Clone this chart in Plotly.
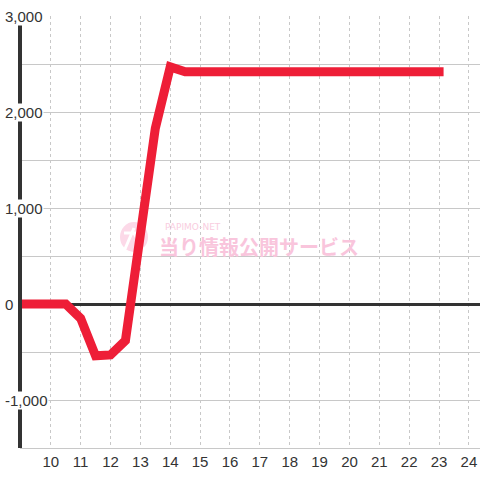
import plotly.graph_objects as go

hours = [9, 10.5, 11, 11.5, 12, 12.5, 13.5, 14, 14.5, 23]
values = [0, 0, -150, -540, -530, -380, 1830, 2470, 2420, 2420]

ytick_vals = [3000, 2000, 1000, 0, -1000]
ytick_text = ["3,000", "2,000", "1,000", "0", "-1,000"]
xtick_vals = list(range(10, 25))

FONT = "Liberation Sans, Arial, sans-serif"

fig = go.Figure()
fig.add_trace(go.Scatter(
    x=hours, y=values, mode="lines",
    line=dict(color="#ee1e37", width=9),
    hoverinfo="skip", showlegend=False,
))

fig.update_layout(
    width=480, height=480,
    margin=dict(l=20, r=0, t=16, b=32, autoexpand=False),
    paper_bgcolor="white", plot_bgcolor="white",
    font=dict(family=FONT, size=15, color="#333"),
    xaxis=dict(
        range=[8.97, 24.37], tickvals=xtick_vals, automargin=False,
        showgrid=True, gridcolor="#c8c8c8", griddash="3px,3px", gridwidth=1,
        zeroline=False, showline=True, linecolor="#c8c8c8", linewidth=1,
        ticks="", tickfont=dict(family=FONT, size=15, color="#333"),
    ),
    yaxis=dict(
        range=[-1500, 3000], dtick=500, tick0=0, automargin=False,
        showgrid=True, gridcolor="#c8c8c8", gridwidth=1,
        zeroline=True, zerolinecolor="#333", zerolinewidth=3,
        showticklabels=False, ticks="", showline=False,
    ),
)

# left axis line (dark)
fig.add_shape(type="line", xref="paper", yref="paper", x0=0.0, x1=0.0, y0=0, y1=1,
              line=dict(color="#333", width=4), layer="above")

# y tick labels with white background over the axis line
for v, t in zip(ytick_vals, ytick_text):
    fig.add_annotation(x=0, xref="paper", xshift=-16, y=v, yref="y",
                       text=t, showarrow=False, xanchor="left", yanchor="middle",
                       bgcolor="white", borderpad=0,
                       font=dict(family=FONT, size=15, color="#333"))

# watermark logo
def px(xp):
    return (xp - 20) / 460.0

def py(yp):
    return (448 - yp) / 432.0

fig.add_shape(type="circle", xref="paper", yref="paper",
              x0=px(120), x1=px(148), y0=py(252), y1=py(222),
              fillcolor="#fcd9e8", line=dict(width=0), layer="below")
fig.add_shape(type="line", xref="paper", yref="paper",
              x0=px(124), x1=px(144), y0=py(233), y1=py(233),
              line=dict(color="white", width=3), layer="below")
fig.add_shape(type="line", xref="paper", yref="paper",
              x0=px(134), x1=px(125), y0=py(228), y1=py(249),
              line=dict(color="white", width=3), layer="below")
fig.add_shape(type="line", xref="paper", yref="paper",
              x0=px(134), x1=px(143), y0=py(233), y1=py(249),
              line=dict(color="white", width=3), layer="below")
fig.add_annotation(x=px(163), y=py(227), xref="paper", yref="paper",
                   text="PAPIMO-NET", showarrow=False,
                   xanchor="left", yanchor="middle",
                   font=dict(size=9, color="#f9cde0", family="DejaVu Sans"))
fig.add_annotation(x=px(157), y=py(246), xref="paper", yref="paper",
                   text="<b>当り情報公開サービス</b>", showarrow=False,
                   xanchor="left", yanchor="middle",
                   font=dict(size=20, color="#f9c5dc", family="Noto Sans CJK JP"))

fig.write_html(
    "out.html",
    config={"displayModeBar": False, "staticPlot": True},
    post_script=(
        "document.body.style.margin='0';document.body.style.overflow='hidden';"
        "document.querySelectorAll('.scatterlayer path.js-line').forEach("
        "function(p){p.style.strokeLinecap='square';});"
    ),
)
